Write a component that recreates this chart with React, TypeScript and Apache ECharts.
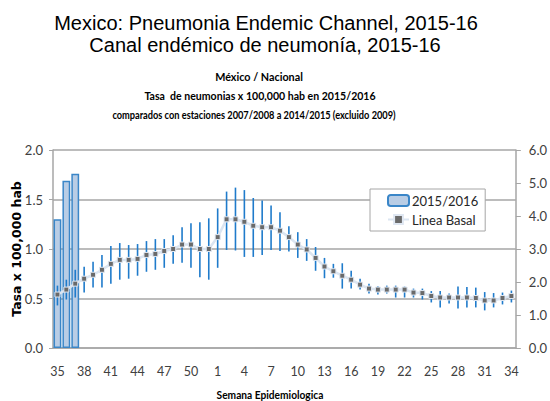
import { useEffect, useRef } from "react";
import * as echarts from "echarts";

const weeks = [
  "35", "36", "37", "38", "39", "40", "41", "42", "43", "44", "45", "46", "47", "48", "49", "50", "51", "52",
  "1", "2", "3", "4", "5", "6", "7", "8", "9", "10", "11", "12", "13", "14", "15", "16", "17", "18", "19", "20",
  "21", "22", "23", "24", "25", "26", "27", "28", "29", "30", "31", "32", "33", "34",
];

const season2015 = [1.3, 1.69, 1.76];

const baseline = [
  0.54, 0.59, 0.65, 0.7, 0.74, 0.79, 0.85, 0.89, 0.89, 0.9, 0.94, 0.95, 0.98, 1.0, 1.045, 1.045, 1.0, 1.0,
  1.12, 1.3, 1.3, 1.275, 1.235, 1.22, 1.22, 1.185, 1.12, 1.045, 0.995, 0.91, 0.823, 0.775, 0.73, 0.69, 0.64, 0.6,
  0.59, 0.59, 0.59, 0.59, 0.56, 0.555, 0.525, 0.51, 0.51, 0.51, 0.51, 0.505, 0.48, 0.48, 0.505, 0.525,
];

const lower = [
  0.43, 0.49, 0.51, 0.56, 0.61, 0.61, 0.65, 0.69, 0.7, 0.73, 0.77, 0.79, 0.81, 0.85, 0.86, 0.81, 0.715, 0.69,
  0.81, 0.99, 0.985, 0.92, 0.92, 0.94, 0.99, 0.98, 0.975, 0.91, 0.88, 0.78, 0.705, 0.71, 0.6, 0.6, 0.59, 0.55,
  0.54, 0.55, 0.51, 0.51, 0.51, 0.49, 0.46, 0.41, 0.45, 0.4, 0.41, 0.41, 0.38, 0.41, 0.44, 0.46,
];

const upper = [
  0.63, 0.69, 0.79, 0.82, 0.87, 0.94, 1.03, 1.06, 1.04, 1.05, 1.08, 1.1, 1.1, 1.14, 1.22, 1.26, 1.27, 1.31,
  1.41, 1.58, 1.62, 1.595, 1.515, 1.49, 1.44, 1.37, 1.23, 1.17, 1.1, 1.02, 0.91, 0.85, 0.856, 0.78, 0.7, 0.65,
  0.625, 0.63, 0.63, 0.62, 0.6, 0.6, 0.575, 0.575, 0.55, 0.62, 0.615, 0.61, 0.565, 0.555, 0.56, 0.58,
];

const CAL = "Lato, 'Open Sans', sans-serif";

function narrowText(text: string, x: number, y: number, scaleX: number) {
  return {
    type: "text",
    x,
    y,
    scaleX,
    style: {
      text,
      font: `bold 12px ${CAL}`,
      fill: "#000",
      textAlign: "center",
      textVerticalAlign: "middle",
    },
  };
}

export default function App() {
  const ref = useRef<HTMLDivElement>(null);

  useEffect(() => {
    const chart = echarts.init(ref.current!, null, { renderer: "svg" });
    const barData = weeks.map((_, i) => (i < season2015.length ? season2015[i] : null));
    const errData = weeks.map((_, i) => [i, lower[i], upper[i]]);

    chart.setOption({
      animation: false,
      backgroundColor: "#ffffff",
      graphic: [
        {
          type: "text",
          x: 266,
          y: 23,
          style: {
            text: "Mexico: Pneumonia Endemic Channel, 2015-16",
            font: "20px 'Liberation Sans', Arial, sans-serif",
            fill: "#000",
            textAlign: "center",
            textVerticalAlign: "middle",
          },
        },
        {
          type: "text",
          x: 265,
          y: 45,
          style: {
            text: "Canal endémico de neumonía, 2015-16",
            font: "20px 'Liberation Sans', Arial, sans-serif",
            fill: "#000",
            textAlign: "center",
            textVerticalAlign: "middle",
          },
        },
        narrowText("México / Nacional", 259, 76, 0.9),
        narrowText("Tasa  de neumonias x 100,000 hab en 2015/2016", 260, 95, 0.88),
        narrowText("comparados con estaciones 2007/2008 a 2014/2015 (excluido 2009)", 254, 114, 0.77),
        narrowText("Semana Epidemiologica", 270, 394, 0.85),
        {
          type: "text",
          x: 16,
          y: 249,
          rotation: Math.PI / 2,
          style: {
            text: "Tasa x 100,000 hab",
            font: "bold 12.5px 'DejaVu Sans', Verdana, sans-serif",
            fill: "#000",
            textAlign: "center",
            textVerticalAlign: "middle",
          },
        },
      ],
      legend: {
        orient: "vertical",
        left: 370,
        top: 189,
        padding: [5, 7, 5, 17],
        itemGap: 6,
        itemWidth: 21,
        itemHeight: 11,
        backgroundColor: "#ffffff",
        borderColor: "#a6a6a6",
        borderWidth: 1,
        borderRadius: 0,
        textStyle: { fontFamily: CAL, fontSize: 13, color: "#262626", padding: [0, 0, 0, -2] },
        data: ["2015/2016", "Linea Basal"],
      },
      grid: { left: 53, right: 33, top: 150, bottom: 53 },
      xAxis: {
        type: "category",
        data: weeks,
        boundaryGap: true,
        axisLine: { lineStyle: { color: "#a6a6a6", width: 1.5 } },
        axisTick: { interval: 0, length: 4, lineStyle: { color: "#a6a6a6" } },
        axisLabel: { interval: 2, margin: 17, fontFamily: CAL, fontSize: 12.5, color: "#404040" },
      },
      yAxis: [
        {
          type: "value",
          min: 0,
          max: 2,
          interval: 0.5,
          axisLine: { show: true, lineStyle: { color: "#a6a6a6", width: 1.5 } },
          axisTick: { show: true, length: 4, lineStyle: { color: "#a6a6a6" } },
          axisLabel: {
            margin: 10,
            fontFamily: CAL,
            fontSize: 13,
            color: "#404040",
            formatter: (v: number) => v.toFixed(1),
          },
          splitLine: { lineStyle: { color: "#a6a6a6", width: 1.5 } },
        },
        {
          type: "value",
          min: 0,
          max: 6,
          interval: 1,
          position: "right",
          axisLine: { show: true, lineStyle: { color: "#a6a6a6", width: 1.5 } },
          axisTick: { show: true, length: 5, lineStyle: { color: "#a6a6a6" } },
          axisLabel: {
            margin: 13,
            fontFamily: CAL,
            fontSize: 13,
            color: "#404040",
            formatter: (v: number) => v.toFixed(1),
          },
          splitLine: { show: false },
        },
      ],
      series: [
        {
          name: "2015/2016",
          type: "bar",
          data: barData,
          barCategoryGap: "12%",
          itemStyle: { color: "#b9cde5", borderColor: "#3a86c8", borderWidth: 1.5 },
          z: 1,
        },
        {
          name: "errores",
          type: "custom",
          data: errData,
          encode: { x: 0, y: [1, 2] },
          renderItem: (_params: any, api: any) => {
            const i = api.value(0);
            const lo = api.coord([i, api.value(1)]);
            const hi = api.coord([i, api.value(2)]);
            return {
              type: "line",
              shape: { x1: lo[0], y1: lo[1], x2: hi[0], y2: hi[1] },
              style: { stroke: "#1f7bcb", lineWidth: 1.6 },
            };
          },
          z: 3,
        },
        {
          name: "Linea Basal",
          type: "line",
          data: baseline,
          symbol: "rect",
          symbolSize: 5,
          showAllSymbol: true,
          lineStyle: { color: "#dbe5f1", width: 2.5 },
          itemStyle: { color: "#6a6a6a", borderColor: "#dfe7f2", borderWidth: 1 },
          z: 5,
        },
      ],
    });

    return () => chart.dispose();
  }, []);

  return <div ref={ref} style={{ position: "fixed", left: 0, top: 0, width: 550, height: 401 }} />;
}
